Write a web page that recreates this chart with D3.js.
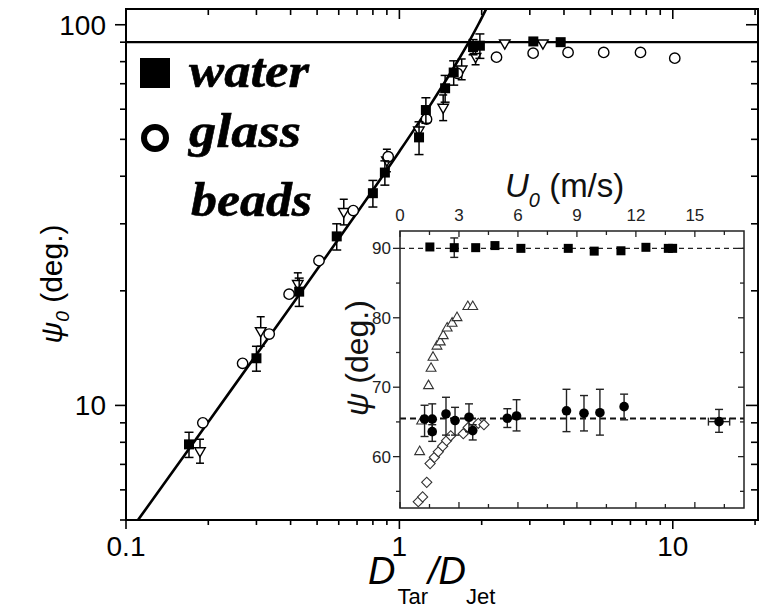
<!DOCTYPE html>
<html>
<head>
<meta charset="utf-8">
<script src="https://cdn.jsdelivr.net/npm/d3@7"></script>
<style>
  html, body { margin: 0; padding: 0; background: #fff; }
  svg { display: block; }
  text { fill: #000; }
  .legend-label {
    font-family: "Liberation Serif", "DejaVu Serif", "Times New Roman", serif;
    font-weight: bold;
    font-style: italic;
    font-size: 48px;
  }
</style>
</head>
<body>
<svg id="chart" width="762" height="610" font-family="'Liberation Sans', Arial, sans-serif"></svg>
<script>
// ---- main panel: impact angle psi0 vs. target/jet diameter ratio ----
const waterD   = [0.170, 0.300, 0.430, 0.590, 0.800, 0.885, 1.18, 1.25, 1.47, 1.58, 1.86, 1.97, 3.09, 3.89];
const waterPsi = [7.9, 13.3, 19.9, 27.8, 36.1, 40.9, 50.6, 59.7, 68.1, 74.9, 87.4, 88.1, 90.4, 90.0];
const waterErr = [0.6, 1.0, 1.7, 2.2, 2.9, 3.0, 5.0, 4.6, 5.5, 5.5, 4.0, 6.5, 0.8, 0.8];

const beadsD   = [0.191, 0.267, 0.334, 0.395, 0.508, 0.678, 0.910, 1.257, 1.63, 2.266, 3.085, 4.14, 5.59, 7.62, 10.17];
const beadsPsi = [9.0, 12.9, 15.4, 19.6, 24.0, 32.5, 45.0, 56.5, 74.5, 82.2, 84.2, 84.6, 84.6, 84.6, 81.7];

const triD   = [0.1865, 0.311, 0.425, 0.626, 0.90, 1.178, 1.446, 1.69, 1.90, 2.43, 3.35];
const triPsi = [7.6, 15.7, 20.9, 32.3, 44.1, 52.9, 60.7, 76.5, 82.5, 89.5, 89.5];
const triErr = [0.55, 1.4, 1.4, 2.5, 3.0, 0, 4.7, 4.8, 4.0, 0, 0];

// guide curve and saturation level
const fitD   = [0.11, 0.2, 0.4, 0.7, 1.0, 1.3, 1.6, 1.8, 1.95, 2.08];
const fitPsi = [4.97, 9.05, 18.16, 32.06, 46.47, 61.70, 78.27, 90.48, 100.6, 110.3];
const plateauPsi = 90;

const xTickLabels = ["0.1", "1", "10"];
const yTickLabels = ["10", "100"];
const legendLabels = ["water", "glass", "beads"];

// ---- inset: psi vs. jet velocity U0 ----
const sqU   = [1.52, 2.76, 3.85, 4.83, 6.15, 8.56, 9.88, 11.24, 12.51, 13.65, 13.87];
const sqPsi = [90.2, 90.1, 90.1, 90.4, 90.0, 90.0, 89.6, 89.65, 90.15, 90.0, 90.0];
const sqErr = [0, 1.4, 0, 0, 0, 0, 0, 0, 0, 0, 0];

const cirU   = [1.25, 1.64, 1.64, 2.34, 2.80, 3.51, 3.70, 5.46, 5.93, 8.47, 9.36, 10.17, 11.4, 16.23];
const cirPsi = [65.4, 65.4, 63.6, 66.15, 65.2, 65.67, 63.75, 65.53, 65.86, 66.6, 66.25, 66.33, 67.2, 65.04];
const cirHi  = [67.4, 67.6, 64.6, 68.55, 67.1, 67.6, 64.6, 66.9, 68.2, 69.7, 68.8, 69.7, 69.0, 66.8];
const cirLo  = [62.9, 63.2, 62.2, 63.1, 63.1, 63.6, 62.4, 64.2, 63.7, 63.6, 63.7, 63.1, 65.3, 63.5];
const cirUErr = [0, 0, 0, 0, 0, 0, 0, 0, 0, 0, 0, 0, 0, 0.54];

const upTriU   = [1.0, 1.1, 1.45, 1.58, 1.68, 1.88, 2.05, 2.2, 2.4, 2.65, 2.9, 3.45, 3.7];
const upTriPsi = [60.7, 65.1, 70.2, 72.7, 74.3, 75.9, 76.5, 77.4, 78.5, 79.2, 80.0, 81.6, 81.6];

const diaU   = [0.93, 1.15, 1.36, 1.53, 1.75, 1.95, 2.17, 2.37, 2.58, 3.22, 3.47, 3.98, 4.27];
const diaPsi = [53.5, 54.2, 56.3, 59.0, 59.9, 60.7, 61.5, 62.3, 63.0, 63.3, 64.2, 64.8, 64.6];

const insetLines = [90, 65.5];
const uTicks = [0, 3, 6, 9, 12, 15];
const vTicks = [60, 70, 80, 90];

const svg = d3.select("#chart");

// ---------- main scales ----------
const M = { left: 126, right: 758, top: 9, bottom: 520 };
const x = d3.scaleLog().domain([0.1, 20.5]).range([M.left, M.right]);
const y = d3.scaleLog().domain([5, 110]).range([M.bottom, M.top]);

svg.append("defs").append("clipPath").attr("id", "clipMain")
  .append("rect").attr("x", M.left).attr("y", M.top)
  .attr("width", M.right - M.left).attr("height", M.bottom - M.top);

// ticks
const xMinor = [];
[0.1, 1, 10].forEach(d => { for (let k = 1; k < 10; k++) { const v = d * k; if (v <= 20.5) xMinor.push(v); } });
const yMinor = [];
[1, 10].forEach(d => { for (let k = 1; k < 10; k++) { const v = d * k; if (v >= 5 && v <= 110) yMinor.push(v); } });
yMinor.push(100);

const tickG = svg.append("g").attr("stroke", "#000").attr("stroke-width", 1.6);
// bottom (outward)
tickG.selectAll(null).data(xMinor).enter().append("line")
  .attr("x1", d => x(d)).attr("x2", d => x(d))
  .attr("y1", M.bottom).attr("y2", d => M.bottom + ([0.1, 1, 10].includes(d) ? 9 : 5));
// top (inward)
tickG.selectAll(null).data(xMinor).enter().append("line")
  .attr("x1", d => x(d)).attr("x2", d => x(d))
  .attr("y1", M.top).attr("y2", d => M.top + ([0.1, 1, 10].includes(d) ? 10 : 6));
// left (outward)
tickG.selectAll(null).data(yMinor).enter().append("line")
  .attr("y1", d => y(d)).attr("y2", d => y(d))
  .attr("x1", M.left).attr("x2", d => M.left - ([10, 100].includes(d) ? 11 : 6));
// right (inward)
tickG.selectAll(null).data(yMinor).enter().append("line")
  .attr("y1", d => y(d)).attr("y2", d => y(d))
  .attr("x1", M.right).attr("x2", d => M.right - ([10, 100].includes(d) ? 12 : 7));

// tick labels
svg.append("g").selectAll(null).data(xTickLabels).enter().append("text")
  .attr("x", d => x(+d)).attr("y", 556)
  .attr("text-anchor", "middle").attr("font-size", 28).text(d => d);
svg.append("g").selectAll(null).data(yTickLabels).enter().append("text")
  .attr("x", 106).attr("y", d => y(+d) + 10)
  .attr("text-anchor", "end").attr("font-size", 28).text(d => d);

// plateau and guide curve
const plot = svg.append("g").attr("clip-path", "url(#clipMain)");
plot.append("line")
  .attr("x1", M.left).attr("x2", M.right)
  .attr("y1", y(plateauPsi)).attr("y2", y(plateauPsi))
  .attr("stroke", "#000").attr("stroke-width", 2.2);
plot.append("path")
  .datum(fitD.map((d, i) => [d, fitPsi[i]]))
  .attr("d", d3.line().x(d => x(d[0])).y(d => y(d[1])).curve(d3.curveMonotoneX))
  .attr("fill", "none").attr("stroke", "#000").attr("stroke-width", 2.6);

// vertical error bars with caps
function vErr(g, xs, lo, hi, xsc, ysc, cap) {
  xs.forEach((d, i) => {
    if (hi[i] === lo[i]) return;
    const cx = xsc(d), y1 = ysc(hi[i]), y2 = ysc(lo[i]);
    g.append("line").attr("x1", cx).attr("x2", cx).attr("y1", y1).attr("y2", y2);
    g.append("line").attr("x1", cx - cap).attr("x2", cx + cap).attr("y1", y1).attr("y2", y1);
    g.append("line").attr("x1", cx - cap).attr("x2", cx + cap).attr("y1", y2).attr("y2", y2);
  });
}

// down triangles (third data set)
const triG = plot.append("g");
const errT = triG.append("g").attr("stroke", "#000").attr("stroke-width", 1.5);
vErr(errT, triD, triPsi.map((p, i) => p - triErr[i]), triPsi.map((p, i) => p + triErr[i]), x, y, 4);
triG.selectAll(null).data(triD).enter().append("path")
  .attr("d", d3.symbol().type(d3.symbolTriangle).size(48))
  .attr("transform", (d, i) => `translate(${x(d)},${y(triPsi[i])}) rotate(180)`)
  .attr("fill", "#fff").attr("stroke", "#000").attr("stroke-width", 1.4);

// glass beads (open circles)
plot.append("g").selectAll(null).data(beadsD).enter().append("circle")
  .attr("cx", d => x(d)).attr("cy", (d, i) => y(beadsPsi[i])).attr("r", 5.2)
  .attr("fill", "#fff").attr("stroke", "#000").attr("stroke-width", 1.4);

// water (filled squares)
const wG = plot.append("g");
const errW = wG.append("g").attr("stroke", "#000").attr("stroke-width", 1.5);
vErr(errW, waterD, waterPsi.map((p, i) => p - waterErr[i]), waterPsi.map((p, i) => p + waterErr[i]), x, y, 4.5);
wG.selectAll(null).data(waterD).enter().append("rect")
  .attr("x", d => x(d) - 5).attr("y", (d, i) => y(waterPsi[i]) - 5)
  .attr("width", 10).attr("height", 10).attr("fill", "#000");

// frame
svg.append("rect").attr("x", M.left).attr("y", M.top)
  .attr("width", M.right - M.left).attr("height", M.bottom - M.top)
  .attr("fill", "none").attr("stroke", "#000").attr("stroke-width", 2);

// legend
svg.append("rect").attr("x", 140).attr("y", 58).attr("width", 30).attr("height", 30).attr("fill", "#000");
svg.append("circle").attr("cx", 155).attr("cy", 138).attr("r", 11).attr("fill", "none")
  .attr("stroke", "#000").attr("stroke-width", 6);
const legPos = [[189, 87, 120], [189, 147, 112], [191, 216, 121]];
svg.append("g").selectAll(null).data(legendLabels).enter().append("text")
  .attr("class", "legend-label")
  .attr("x", (d, i) => legPos[i][0]).attr("y", (d, i) => legPos[i][1])
  .attr("textLength", (d, i) => legPos[i][2]).attr("lengthAdjust", "spacingAndGlyphs")
  .attr("stroke", "#000").attr("stroke-width", 0.6)
  .text(d => d);

// axis titles
const xt = svg.append("text").attr("x", 368).attr("y", 584).attr("font-size", 38);
xt.append("tspan").attr("font-style", "italic").text("D");
xt.append("tspan").attr("font-size", 22).attr("dy", 20).attr("dx", 2).text("Tar");
xt.append("tspan").attr("dy", -20).attr("font-style", "italic").text("/D");
xt.append("tspan").attr("font-size", 22).attr("dy", 20).text("Jet");

const yt = svg.append("text").attr("transform", "translate(62,284) rotate(-90)")
  .attr("text-anchor", "middle").attr("font-size", 30);
yt.append("tspan").attr("font-style", "italic").text("ψ");
yt.append("tspan").attr("font-style", "italic").attr("font-size", 19).attr("dy", 7).text("0");
yt.append("tspan").attr("dy", -7).text(" (deg.)");

// ---------- inset ----------
const I = { left: 400, right: 744, top: 231, bottom: 508 };
const u = d3.scaleLinear().domain([0, 17.5]).range([I.left, I.right]);
const v = d3.scaleLinear().domain([52.6, 92.5]).range([I.bottom, I.top]);

svg.append("rect").attr("x", I.left).attr("y", I.top)
  .attr("width", I.right - I.left).attr("height", I.bottom - I.top)
  .attr("fill", "#fff");

const inG = svg.append("g");
const iTick = inG.append("g").attr("stroke", "#222").attr("stroke-width", 1.3);
d3.range(0, 17.5, 1.5).forEach(d => {
  const major = Math.abs(d % 3) < 1e-9;
  iTick.append("line").attr("x1", u(d)).attr("x2", u(d)).attr("y1", I.top).attr("y2", I.top + (major ? 6 : 4));
  iTick.append("line").attr("x1", u(d)).attr("x2", u(d)).attr("y1", I.bottom).attr("y2", I.bottom - (major ? 6 : 4));
});
d3.range(55, 92.5, 5).forEach(d => {
  const major = d % 10 === 0;
  iTick.append("line").attr("y1", v(d)).attr("y2", v(d)).attr("x1", I.left).attr("x2", I.left - (major ? 7 : 4));
  iTick.append("line").attr("y1", v(d)).attr("y2", v(d)).attr("x1", I.right).attr("x2", I.right - (major ? 6 : 4));
});

inG.append("g").selectAll(null).data(uTicks).enter().append("text")
  .attr("x", d => u(d)).attr("y", 221).attr("text-anchor", "middle")
  .attr("font-size", 17).style("fill", "#222").text(d => d);
inG.append("g").selectAll(null).data(vTicks).enter().append("text")
  .attr("x", 391).attr("y", d => v(d) + 6).attr("text-anchor", "end")
  .attr("font-size", 17).style("fill", "#222").text(d => d);

const ut = inG.append("text").attr("x", 505).attr("y", 197).attr("font-size", 33).style("fill", "#111");
ut.append("tspan").attr("font-style", "italic").text("U");
ut.append("tspan").attr("font-style", "italic").attr("font-size", 20).attr("dy", 10).text("0");
ut.append("tspan").attr("dy", -10).text(" (m/s)");

const vt = inG.append("text").attr("transform", "translate(368,358) rotate(-90)")
  .attr("text-anchor", "middle").attr("font-size", 32).style("fill", "#111");
vt.append("tspan").attr("font-style", "italic").text("ψ");
vt.append("tspan").text(" (deg.)");

// reference levels
inG.append("line").attr("x1", I.left).attr("x2", I.right)
  .attr("y1", v(insetLines[0])).attr("y2", v(insetLines[0]))
  .attr("stroke", "#222").attr("stroke-width", 1.2).attr("stroke-dasharray", "5,4");
inG.append("line").attr("x1", I.left).attr("x2", I.right)
  .attr("y1", v(insetLines[1])).attr("y2", v(insetLines[1]))
  .attr("stroke", "#111").attr("stroke-width", 2).attr("stroke-dasharray", "6,4");

// open up-triangles
inG.append("g").selectAll(null).data(upTriU).enter().append("path")
  .attr("d", d3.symbol().type(d3.symbolTriangle).size(42))
  .attr("transform", (d, i) => `translate(${u(d)},${v(upTriPsi[i])})`)
  .attr("fill", "#fff").attr("stroke", "#333").attr("stroke-width", 1.1);

// open diamonds
inG.append("g").selectAll(null).data(diaU).enter().append("rect")
  .attr("x", -3.6).attr("y", -3.6).attr("width", 7.2).attr("height", 7.2)
  .attr("transform", (d, i) => `translate(${u(d)},${v(diaPsi[i])}) rotate(45)`)
  .attr("fill", "#fff").attr("stroke", "#333").attr("stroke-width", 1.1);

// filled circles with error bars
const cErr = inG.append("g").attr("stroke", "#222").attr("stroke-width", 1.4);
vErr(cErr, cirU, cirLo, cirHi, u, v, 4);
cirU.forEach((d, i) => {
  if (!cirUErr[i]) return;
  const yy = v(cirPsi[i]), a = u(d - cirUErr[i]), b = u(d + cirUErr[i]);
  cErr.append("line").attr("x1", a).attr("x2", b).attr("y1", yy).attr("y2", yy);
  cErr.append("line").attr("x1", a).attr("x2", a).attr("y1", yy - 4).attr("y2", yy + 4);
  cErr.append("line").attr("x1", b).attr("x2", b).attr("y1", yy - 4).attr("y2", yy + 4);
});
inG.append("g").selectAll(null).data(cirU).enter().append("circle")
  .attr("cx", d => u(d)).attr("cy", (d, i) => v(cirPsi[i])).attr("r", 4.8).attr("fill", "#000");

// filled squares
const sErr = inG.append("g").attr("stroke", "#222").attr("stroke-width", 1.4);
vErr(sErr, sqU, sqPsi.map((p, i) => p - sqErr[i]), sqPsi.map((p, i) => p + sqErr[i]), u, v, 4);
inG.append("g").selectAll(null).data(sqU).enter().append("rect")
  .attr("x", d => u(d) - 4.5).attr("y", (d, i) => v(sqPsi[i]) - 4.5)
  .attr("width", 9).attr("height", 9).attr("fill", "#000");

inG.append("rect").attr("x", I.left).attr("y", I.top)
  .attr("width", I.right - I.left).attr("height", I.bottom - I.top)
  .attr("fill", "none").attr("stroke", "#222").attr("stroke-width", 1.5);
</script>
</body>
</html>
